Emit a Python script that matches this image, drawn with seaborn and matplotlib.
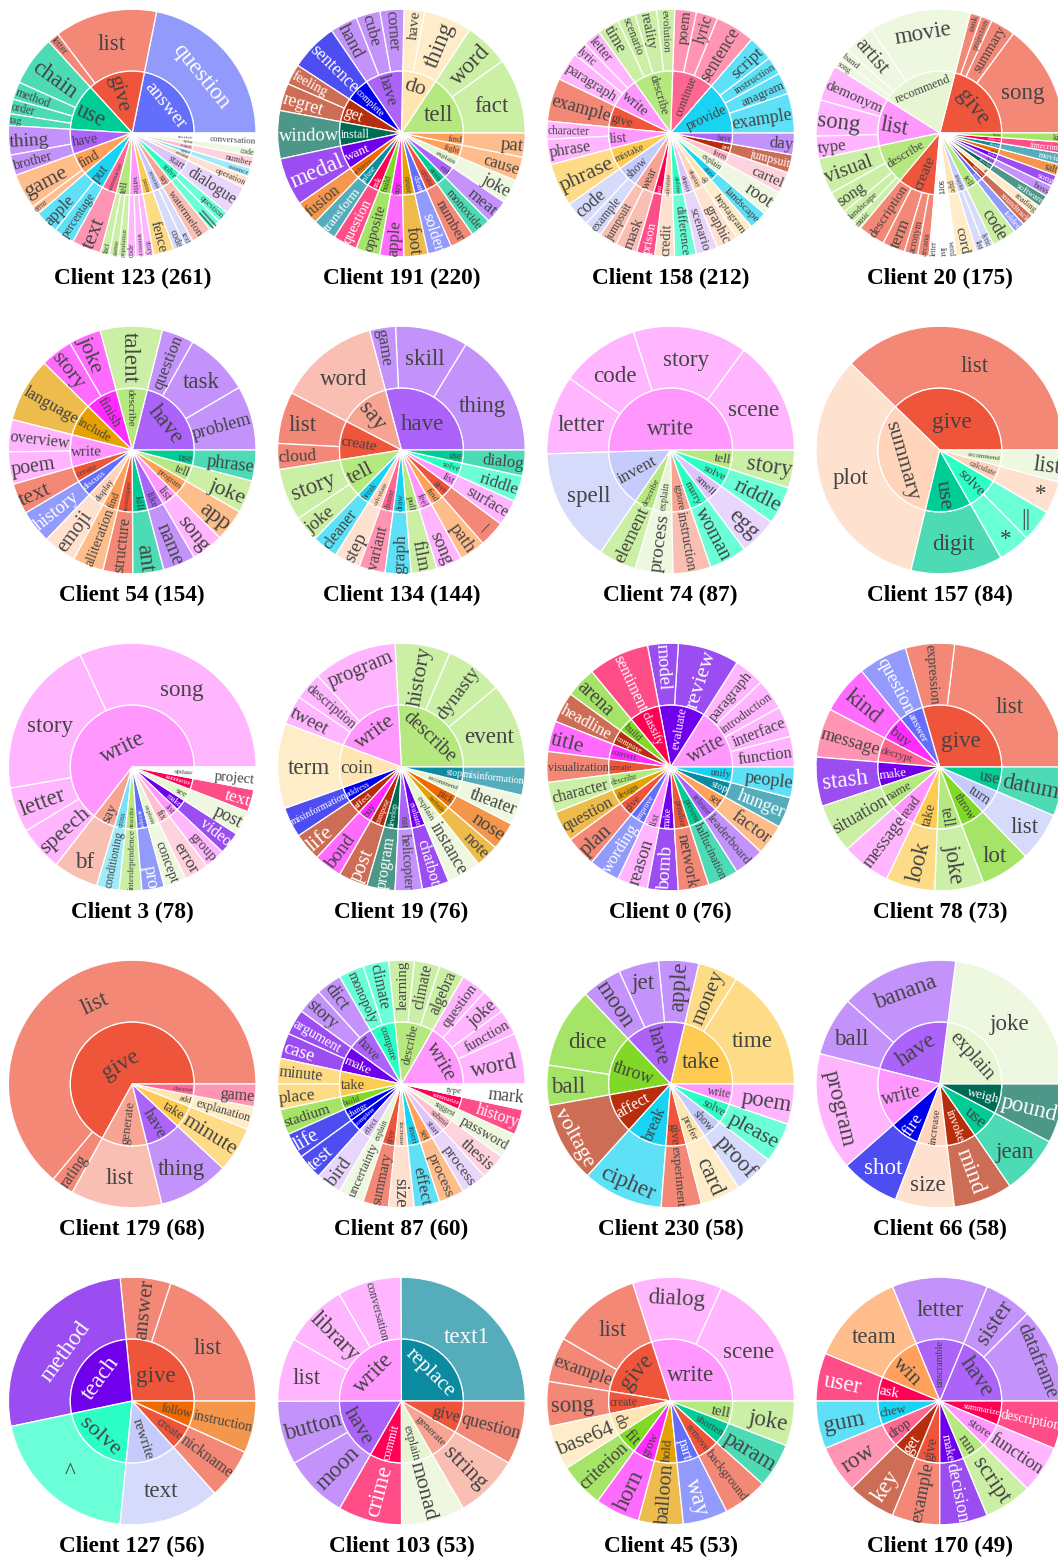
import numpy as np
import matplotlib
matplotlib.use("Agg")
import matplotlib.pyplot as plt
import matplotlib.colors as mcolors
from matplotlib.font_manager import FontProperties
from matplotlib.textpath import text_to_path
import seaborn as sns

sns.set_theme(style="white")
plt.rcParams["font.family"] = ["Liberation Serif", "DejaVu Sans"]

# Verb colours (inner ring); nouns get the same colour at 70% on white
verb_colors = {
    "answer": "#636EFA", "discuss": "#636EFA", "clean": "#636EFA", "improve": "#636EFA",
    "part": "#636EFA", "accept": "#636EFA",
    "give": "#EF553B", "create": "#EF553B", "investigate": "#EF553B", "penalize": "#EF553B",
    "remove": "#EF553B",
    "use": "#00CC96", "kill": "#00CC96", "drink": "#00CC96", "prevent": "#00CC96",
    "shorten": "#00CC96",
    "have": "#AB63FA", "eat": "#AB63FA", "like": "#AB63FA", "release": "#AB63FA",
    "unscramble": "#AB63FA",
    "find": "#FFA15A", "fight": "#FFA15A", "program": "#FFA15A", "set": "#FFA15A", "win": "#FFA15A",
    "put": "#19D3F3", "provide": "#19D3F3", "draw": "#19D3F3", "break": "#19D3F3", "unify": "#19D3F3",
    "chew": "#19D3F3", "insert": "#19D3F3",
    "capture": "#76E2F8", "cross": "#76E2F8",
    "summarise": "#FF6692", "continue": "#FF6692", "choose": "#FF6692", "decrypt": "#FF6692",
    "drop": "#FF6692",
    "tell": "#B6E880", "describe": "#B6E880", "pull": "#B6E880", "name": "#B6E880", "run": "#B6E880",
    "write": "#FF97FF", "list": "#FF97FF", "feel": "#FF97FF", "read": "#FF97FF", "store": "#FF97FF",
    "paint": "#FECB52", "mistake": "#FECB52", "take": "#FECB52",
    "rewrite": "#C5CBFA", "show": "#C5CBFA", "invent": "#C5CBFA", "turn": "#C5CBFA",
    "say": "#F8A492", "wear": "#F8A492", "ignore": "#F8A492", "generate": "#F8A492",
    "solve": "#2BFFC6", "define": "#2BFFC6", "compare": "#2BFFC6", "marry": "#2BFFC6",
    "explain": "#E7F5D3", "recommend": "#E7F5D3", "see": "#E7F5D3", "suggest": "#E7F5D3",
    "do": "#FEE5B1", "coin": "#FEE5B1", "prefer": "#FEE5B1", "pipe": "#FEE5B1", "add": "#FEE5B1",
    "start": "#DFC4FB", "depict": "#DFC4FB", "smell": "#DFC4FB", "effect": "#DFC4FB",
    "calculate": "#FFD4BA", "display": "#FFD4BA", "summary": "#FFD4BA", "increase": "#FFD4BA",
    "crunch": "#FFC0D0", "form": "#FFC0D0", "fix": "#FFC0D0", "submit": "#FFC0D0",
    "receive": "#FFFFFF", "sort": "#FFFFFF", "update": "#FFFFFF", "type": "#FFFFFF",
    "complete": "#0000EB", "address": "#0000EB", "fire": "#0000EB", "change": "#0000EB",
    "get": "#B82E0C", "compose": "#B82E0C", "affect": "#B82E0C", "invoke": "#B82E0C",
    "install": "#006B55", "develop": "#006B55", "weigh": "#006B55",
    "want": "#7000EB", "evaluate": "#7000EB", "make": "#7000EB", "teach": "#7000EB",
    "achieve": "#F06A00", "pick": "#F06A00", "follow": "#F06A00", "pass": "#F06A00",
    "infuse": "#0C8AA0", "stop": "#0C8AA0", "replace": "#0C8AA0", "stream": "#0C8AA0",
    "ask": "#FF0055", "fail": "#FF0055", "commit": "#FF0055", "classify": "#FF0055",
    "summarize": "#FF0055",
    "build": "#80D926", "fit": "#80D926", "throw": "#80D926",
    "buy": "#FF2BFF", "finish": "#FF2BFF", "grow": "#FF2BFF", "convert": "#FF2BFF",
    "cause": "#E6A000", "include": "#E6A000", "hold": "#E6A000", "design": "#E6A000",
}

c123_verbs = ["answer", "give", "use", "have", "find", "put", "summarise", "tell", "write", "paint",
              "rewrite", "say", "solve", "start", "calculate", "capture", "crunch", "explain", "receive"]
c123_nouns = [["question"], ["list", "letter"], ["chain", "method", "order", "tag"], ["thing", "brother"],
              ["game", "error"], ["apple", "percentage"], ["text"], ["fact", "game", "population"],
              ["code", "sentence", "story"], ["fence"], ["code", "text"], ["watermelon"], ["||", "question"],
              ["dialogue"], ["operation"], ["essence"], ["number"], ["code"], ["conversation"]]
c123_counts = [[57], [35, 4], [17, 6, 5, 4], [10, 7], [12, 3], [8, 7], [10], [3, 3, 3], [3, 3, 3], [7],
               [4, 3], [7], [4, 4], [10], [4], [3], [4], [3], [5]]

c191_verbs = ["tell", "do", "have", "complete", "get", "install", "want", "achieve", "infuse", "ask", "build",
              "buy", "cause", "clean", "create", "drink", "eat", "explain", "fight", "find"]
c191_nouns = [["fact", "word"], ["thing", "have"], ["corner", "cube", "hand"], ["sentence"], ["feeling", "regret"],
              ["window"], ["medal"], ["fusion"], ["transform"], ["question"], ["opposite"], ["apple"], ["foot"],
              ["solder"], ["number"], ["monoxide"], ["meat"], ["joke"], ["cause"], ["pat"]]
c191_counts = [[22, 13], [14, 6], [7, 7, 8], [14], [6, 8], [14], [14], [7], [7], [7], [7], [7], [7], [7], [7],
               [6], [7], [7], [7], [7]]

c158_verbs = ["provide", "continue", "describe", "write", "give", "list", "mistake", "show", "wear", "fail",
              "calculate", "define", "depict", "display", "do", "draw", "explain", "form", "get", "have"]
c158_nouns = [["example", "anagram", "instruction", "script"], ["sentence", "lyric", "poem"],
              ["evolution", "reality", "scenario", "time"], ["letter", "lyric", "paragraph"], ["example"],
              ["character", "phrase"], ["phrase"], ["code", "example"], ["jumpsuit", "mask"], ["prison"],
              ["credit"], ["difference"], ["scenario"], ["graphic"], ["heptagram"], ["landscape"], ["root"],
              ["cartel"], ["jumpsuit"], ["day"]]
c158_counts = [[11, 6, 5, 7], [11, 6, 6], [5, 6, 5, 6], [5, 4, 8], [12], [5, 7], [12], [7, 5], [5, 6], [5],
               [5.5], [6], [6], [6], [5], [5], [7], [6], [5], [6]]

c20_verbs = ["give", "recommend", "list", "describe", "create", "sort", "pipe", "rewrite", "tell", "clean",
             "compose", "do", "develop", "have", "make", "pass", "stream", "commit", "throw"]
c20_nouns = [["song", "summary", "projection", "rank"], ["movie", "artist", "band", "song"],
             ["demonym", "song", "type"], ["visual", "song", "landscape", "music"],
             ["description", "term", "acronym", "arcana"], ["letter", "list", "word"], ["cord"], ["list", "lyric"],
             ["code"], ["folder"], ["soundtrack"], ["reading"], ["software"], ["boss"], ["song"], ["salt"],
             ["movie"], ["timecrime"], ["kin"]]
c20_counts = [[25.3, 5.5, 2.5, 2.5], [22.5, 7, 2.5, 2], [8, 8, 5], [8, 5, 3, 2], [6, 5, 3, 2.5], [2, 2, 2], [4.5],
              [2, 2], [5.5], [2.5], [2.7], [2.5], [2.7], [2.5], [2.5], [2.5], [2.5], [2.5], [2]]

c54_verbs = ["have", "describe", "finish", "include", "write", "create", "discuss", "display", "find",
             "investigate", "kill", "like", "list", "program", "tell", "use"]
c54_nouns = [["problem", "task", "question"], ["talent"], ["joke", "story"], ["language"], ["overview", "poem"],
             ["text"], ["history"], ["emoji"], ["alliteration"], ["structure"], ["ant"], ["name"], ["song"],
             ["app"], ["joke"], ["phrase"]]
c54_counts = [[13, 13, 6.5], [12.5], [6.5, 6.5], [13], [6.5, 6.5], [6.2], [6.7], [6.7], [6.2], [6], [6.2], [6.5],
              [6.4], [6.5], [6.6], [6.2]]

c134_verbs = ["have", "say", "create", "tell", "break", "calculate", "choose", "draw", "pull", "feel", "find",
              "give", "list", "solve", "use"]
c134_nouns = [["thing", "skill", "game"], ["word"], ["list", "cloud"], ["story", "joke"], ["cleaner"], ["step"],
              ["variant"], ["graph"], ["film"], ["song"], ["path"], ["_"], ["surface"], ["riddle"], ["dialog"]]
c134_counts = [[24, 14, 5], [19.5], [10, 5], [10, 5], [5], [5], [5], [5], [5], [5], [5], [5], [5], [5], [5]]

c74_verbs = ["write", "invent", "describe", "explain", "ignore", "marry", "smell", "solve", "tell"]
c74_nouns = [["scene", "story", "code", "letter"], ["spell"], ["element"], ["process"], ["instruction"], ["woman"],
             ["egg"], ["riddle"], ["story"]]
c74_counts = [[13, 13, 9, 9], [13], [4.3], [4.3], [4.3], [4.3], [4.3], [4.3], [4.3]]

c157_verbs = ["give", "summary", "use", "solve", "calculate", "recommend"]
c157_nouns = [["list"], ["plot"], ["digit"], ["*", "||"], ["*"], ["list"]]
c157_counts = [[31.5], [28], [10], [3.5, 3.5], [3.5], [3.5]]

c3_verbs = ["write", "say", "cross", "describe", "accept", "explain", "fix", "list", "make", "see", "summarize",
            "update"]
c3_nouns = [["song", "story", "letter", "speech"], ["bf"], ["conditioning"], ["interdependence"], ["pro"],
            ["concept"], ["error"], ["group"], ["video"], ["post"], ["text"], ["project"]]
c3_counts = [[25, 16.3, 4.6, 4.6], [4.6], [2.3], [2.3], [2.3], [2.3], [2.5], [2.1], [2.3], [2.5], [2.3], [2.3]]

c19_verbs = ["describe", "write", "coin", "address", "affect", "buy", "compose", "develop", "eat", "evaluate",
             "explain", "include", "pick", "recommend", "stop"]
c19_nouns = [["event", "dynasty", "history"], ["program", "description", "tweet"], ["term"], ["misinformation"],
             ["life"], ["bond"], ["post"], ["program"], ["helicopter"], ["chatbot"], ["instance"], ["note"],
             ["nose"], ["theater"], ["misinformation"]]
c19_counts = [[8.5, 5.7, 5.5], [8.4, 2.8, 2.9], [8.5], [3], [2.8], [2.8], [2.9], [2.8], [2.7], [2.7], [3.4], [2.3],
              [2.8], [3], [2.8]]

c0_verbs = ["write", "evaluate", "classify", "build", "compose", "convert", "create", "describe", "design", "give",
            "improve", "list", "make", "penalize", "prevent", "release", "set", "stop", "unify"]
c0_nouns = [["function", "interface", "introduction", "paragraph"], ["review", "model"], ["sentiment"], ["arena"],
            ["headline"], ["title"], ["visualization"], ["character"], ["question"], ["plan"], ["wording"],
            ["reason"], ["bomb"], ["network"], ["hallucination"], ["leaderboard"], ["factor"], ["hunger"],
            ["people"]]
c0_counts = [[3, 3, 3, 3], [6, 3], [6], [3], [3], [3], [3], [3], [3], [3], [3], [3], [3], [3], [3], [3], [3], [3],
             [3]]

c78_verbs = ["give", "answer", "buy", "decrypt", "make", "name", "read", "take", "tell", "throw", "turn", "use"]
c78_nouns = [["list", "expression"], ["question"], ["kind"], ["message"], ["stash"], ["situation"], ["message"],
             ["look"], ["joke"], ["lot"], ["list"], ["datum"]]
c78_counts = [[18, 5], [5], [5], [5], [5], [5], [5], [5], [5], [5], [5], [5]]

c179_verbs = ["give", "generate", "have", "take", "add", "choose"]
c179_nouns = [["list", "rating"], ["list"], ["thing"], ["minute"], ["explanation"], ["game"]]
c179_counts = [[43, 2], [8], [6.2], [4], [2], [2]]

c87_verbs = ["write", "describe", "compare", "have", "make", "take", "build", "change", "complete", "effect",
             "explain", "give", "increase", "insert", "set", "start", "submit", "suggest", "summarize", "type"]
c87_nouns = [["word", "function", "joke", "question"], ["algebra", "climate", "learning"], ["climate", "monopoly"],
             ["dict", "story"], ["argument", "case"], ["minute", "place"], ["stadium"], ["life"], ["test"], ["bird"],
             ["uncertainty"], ["summary"], ["size"], ["effect"], ["process"], ["process"], ["thesis"], ["password"],
             ["history"], ["mark"]]
c87_counts = [[4, 2, 2, 2], [2, 2, 2], [2, 2], [2, 2], [2, 2], [2, 2], [2], [2], [2], [2], [2], [2], [2], [2], [2],
              [2], [2], [2], [2], [2]]

c230_verbs = ["take", "have", "throw", "affect", "break", "give", "prefer", "show", "solve", "write"]
c230_nouns = [["time", "money"], ["apple", "jet", "moon"], ["dice", "ball"], ["voltage"], ["cipher"],
              ["experiment"], ["card"], ["proof"], ["please"], ["poem"]]
c230_counts = [[9.2, 3], [3, 3, 3], [6, 3], [6], [6], [3], [3], [3], [3], [3]]

c66_verbs = ["explain", "have", "write", "fire", "increase", "invoke", "use", "weigh"]
c66_nouns = [["joke"], ["banana", "ball"], ["program"], ["shot"], ["size"], ["mind"], ["jean"], ["pound"]]
c66_counts = [[13.4], [9, 4.5], [9], [4.5], [4.5], [4.5], [4.5], [4.5]]

c127_verbs = ["give", "teach", "solve", "rewrite", "create", "follow"]
c127_nouns = [["list", "answer"], ["method"], ["^"], ["text"], ["nickname"], ["instruction"]]
c127_counts = [[11.2, 3.7], [15], [11.3], [7.4], [3.7], [3.8]]

c103_verbs = ["replace", "write", "have", "commit", "explain", "generate", "give"]
c103_nouns = [["text1"], ["conversation", "library", "list"], ["button", "moon"], ["crime"], ["monad"], ["string"],
              ["question"]]
c103_counts = [[13.25], [4.4, 4.4, 4.4], [4.4, 4.4], [4.4], [4.4], [4.4], [4.4]]

c45_verbs = ["write", "give", "create", "do", "fit", "grow", "hold", "part", "remove", "shorten", "tell"]
c45_nouns = [["scene", "dialog"], ["list", "example"], ["song"], ["base64"], ["criterion"], ["horn"], ["balloon"],
             ["way"], ["background"], ["param"], ["joke"]]
c45_counts = [[9.4, 6], [6, 3], [3], [3], [3], [3], [3], [3], [3], [3], [3]]

c170_verbs = ["have", "unscramble", "win", "ask", "chew", "drop", "get", "give", "make", "run", "store", "summarize"]
c170_nouns = [["dataframe", "sister"], ["letter"], ["team"], ["user"], ["gum"], ["row"], ["key"], ["example"],
              ["decision"], ["script"], ["function"], ["description"]]
c170_counts = [[6, 3], [6], [6], [3], [3], [3], [3], [3], [3], [3], [3], [3]]

panels = [
    ("Client 123 (261)", c123_verbs, c123_nouns, c123_counts), ("Client 191 (220)", c191_verbs, c191_nouns, c191_counts),
    ("Client 158 (212)", c158_verbs, c158_nouns, c158_counts), ("Client 20 (175)", c20_verbs, c20_nouns, c20_counts),
    ("Client 54 (154)", c54_verbs, c54_nouns, c54_counts), ("Client 134 (144)", c134_verbs, c134_nouns, c134_counts),
    ("Client 74 (87)", c74_verbs, c74_nouns, c74_counts), ("Client 157 (84)", c157_verbs, c157_nouns, c157_counts),
    ("Client 3 (78)", c3_verbs, c3_nouns, c3_counts), ("Client 19 (76)", c19_verbs, c19_nouns, c19_counts),
    ("Client 0 (76)", c0_verbs, c0_nouns, c0_counts), ("Client 78 (73)", c78_verbs, c78_nouns, c78_counts),
    ("Client 179 (68)", c179_verbs, c179_nouns, c179_counts), ("Client 87 (60)", c87_verbs, c87_nouns, c87_counts),
    ("Client 230 (58)", c230_verbs, c230_nouns, c230_counts), ("Client 66 (58)", c66_verbs, c66_nouns, c66_counts),
    ("Client 127 (56)", c127_verbs, c127_nouns, c127_counts), ("Client 103 (53)", c103_verbs, c103_nouns, c103_counts),
    ("Client 45 (53)", c45_verbs, c45_nouns, c45_counts), ("Client 170 (49)", c170_verbs, c170_nouns, c170_counts),
]

W, H = 1058, 1560
R_OUT, R_IN = 123.8, 61.9
MAX_FONT = 23.0      # px
TITLE_FONT = 23.2    # px
PAD = 1.0
BOX_H = 1.02         # text box height in em, rotated labels
BOX_H_FLAT = 1.12    # text box height in em, horizontal labels
col_x = [132.2, 401.4, 670.6, 939.8]
row_y = [133.0, 450.0, 767.0, 1084.0, 1401.0]
px = 72.0 / 100.0    # px -> pt at dpi 100

label_font = FontProperties(family="Liberation Serif", size=100)


def text_width(s):
    w, _, _ = text_to_path.get_text_width_height_descent(s, label_font, False)
    return w / 100.0


def max_half(a, half, r, ring):
    q = a + 1 / (2 * np.tan(half))
    return r * min(1 / (np.sqrt(q * q + 0.5) + q), ring / (np.sqrt(a * a + ring / 2) + a))


def fit_label(s, theta1, theta2, r0, r1):
    # same fitting idea as a plotly sunburst: horizontal if it fits, else radial or tangential
    w = text_width(s) * MAX_FONT
    h = BOX_H * MAX_FONT
    half = 0.5 * min(np.deg2rad(theta2 - theta1), np.pi)
    mid = 0.5 * (theta1 + theta2)
    cw = np.deg2rad(90 - mid)
    ring = 1 - r0 / r1
    inscribed = max(0, min(1 / (1 + 1 / np.sin(half)), ring / 2))

    scale = inscribed * r1 * 2 / np.hypot(w, BOX_H_FLAT * MAX_FONT)
    options = []
    # sectors over a half turn are never horizontal in the reference
    if theta2 - theta1 <= 180.5:
        options.append((scale, 1 - inscribed, 0.0))
    if scale < 1 or not options:
        r = r1 - 2 * PAD
        a = h / w
        s1 = max_half(a, half, r, ring)
        options.append((s1 * 2 / w, np.cos(s1 / r) - a * s1 / r, (np.rad2deg(cw) + 90 + 720) % 180 - 90))
        a = w / h
        s2 = max_half(a, half, r, ring)
        options.append((s2 * 2 / h, np.cos(s2 / r) - a * s2 / r, (np.rad2deg(cw) + 720) % 180 - 90))
    scale, rc, rot = max(options, key=lambda o: o[0])
    return min(scale, 1.0), rc * r1, -rot, mid


def put_label(ax, s, wedge, r0, r1, color):
    scale, rc, rot, mid = fit_label(s, wedge.theta1, wedge.theta2, r0, r1)
    size = MAX_FONT * scale
    x = rc * np.cos(np.deg2rad(mid))
    y = rc * np.sin(np.deg2rad(mid))
    # box centre -> baseline
    off = 0.3375 * size
    x += off * np.sin(np.deg2rad(rot))
    y -= off * np.cos(np.deg2rad(rot))
    ax.text(x, y, s, fontsize=size * px, rotation=rot, rotation_mode="anchor", ha="center", va="baseline",
            color=color, clip_on=False)


def text_color(base):
    r, g, b = np.array(mcolors.to_rgb(base)) * 255
    return "white" if (r * 299 + g * 587 + b * 114) / 1000 < 128 else "#444444"


def draw_panel(ax, title, verbs, nouns, counts):
    base = sns.color_palette([verb_colors[v] for v in verbs])
    totals = [sum(c) for c in counts]
    flat_vals, flat_names, flat_cols, flat_text = [], [], [], []
    for col, names, vals in zip(base, nouns, counts):
        for n, v in zip(names, vals):
            flat_vals.append(v)
            flat_names.append(n)
            flat_cols.append(tuple(0.7 * np.array(col) + 0.3))
            flat_text.append(text_color(col))

    edge = dict(edgecolor="white", linewidth=0.9)
    outer, _ = ax.pie(flat_vals, radius=R_OUT, colors=flat_cols, startangle=0,
                      wedgeprops=dict(width=R_OUT - R_IN, **edge))
    inner, _ = ax.pie(totals, radius=R_IN, colors=base, startangle=0, wedgeprops=edge)

    for wedge, name, c in zip(outer, flat_names, flat_text):
        put_label(ax, name, wedge, R_IN, R_OUT, c)
    for wedge, name, col in zip(inner, verbs, base):
        put_label(ax, name, wedge, 0.0, R_IN, text_color(col))

    ax.text(0, -151.5, title, fontsize=TITLE_FONT * px, fontweight="bold", color="black", ha="center", va="baseline",
            clip_on=False)
    ax.set_xlim(-R_OUT - 2, R_OUT + 2)
    ax.set_ylim(-R_OUT - 2, R_OUT + 2)
    ax.set_aspect("equal")
    ax.axis("off")


fig = plt.figure(figsize=(W / 100, H / 100), dpi=100, facecolor="white")
half_box = R_OUT + 2
for i, (title, verbs, nouns, counts) in enumerate(panels):
    cx, cy = col_x[i % 4], row_y[i // 4]
    ax = fig.add_axes([(cx - half_box) / W, 1 - (cy + half_box) / H, 2 * half_box / W, 2 * half_box / H])
    draw_panel(ax, title, verbs, nouns, counts)

fig.savefig("out.png", dpi=100)
plt.close(fig)
